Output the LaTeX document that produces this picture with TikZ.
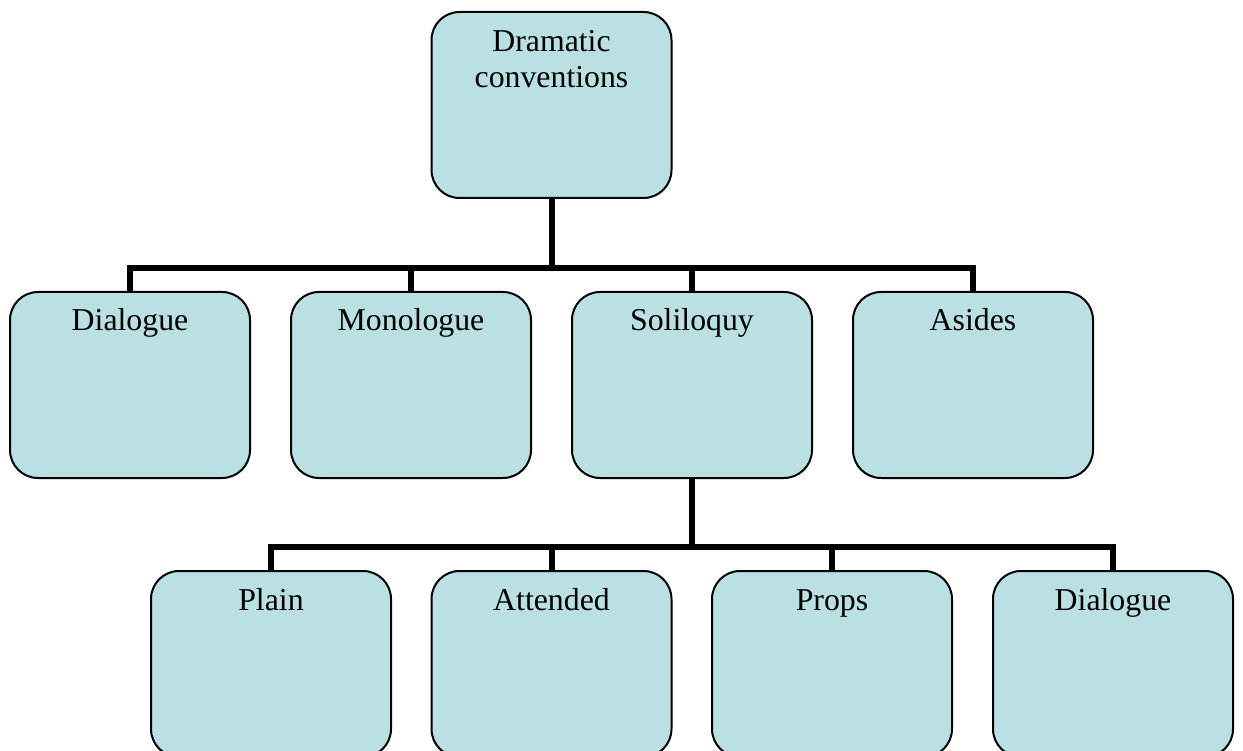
\documentclass[tikz,border=0pt]{standalone}
\usepackage{fontspec}
\setmainfont{Liberation Serif}
\definecolor{boxfill}{HTML}{BAE0E3}
\begin{document}
\begin{tikzpicture}[x=1pt,y=-1pt,
  box/.style={draw=black, line width=2pt, fill=boxfill, rounded corners=28pt,
    minimum width=240pt, minimum height=186pt, inner sep=0pt},
  lbl/.style={font=\fontsize{31.8}{36}\selectfont, anchor=base, inner sep=0pt},
  conn/.style={line width=6pt, line join=miter}]
\useasboundingbox (0,0) rectangle (1243,751);
\clip (0,0) rectangle (1243,751);
% junction points
\coordinate (j1) at (551.5,268);
\coordinate (j2) at (692,547);
% boxes
\node[box] (top) at (551.5,105) {};
\node[box] (dial) at (130,385) {};
\node[box] (mono) at (411,385) {};
\node[box] (soli) at (692,385) {};
\node[box] (asid) at (973,385) {};
\node[box] (plain) at (271,664) {};
\node[box] (atte) at (551.5,664) {};
\node[box] (props) at (832,664) {};
\node[box] (dial2) at (1113,664) {};
% connectors
\draw[conn] (top.south) -- (j1);
\foreach \c in {dial,mono,soli,asid} \draw[conn] (\c.north) |- (j1);
\draw[conn] (soli.south) -- (j2);
\foreach \c in {plain,atte,props,dial2} \draw[conn] (\c.north) |- (j2);
% labels
\node[lbl] (ltop1) at ([yshift=-41pt]top.north) {Dramatic};
\node[lbl] (ltop2) at ([yshift=-77pt]top.north) {conventions};
\node[lbl] (ldial) at ([yshift=-40pt]dial.north) {Dialogue};
\node[lbl] (lmono) at ([yshift=-40pt]mono.north) {Monologue};
\node[lbl] (lsoli) at ([yshift=-40pt]soli.north) {Soliloquy};
\node[lbl] (lasid) at ([yshift=-40pt]asid.north) {Asides};
\node[lbl] (lplain) at ([yshift=-40pt]plain.north) {Plain};
\node[lbl] (latte) at ([yshift=-40pt]atte.north) {Attended};
\node[lbl] (lprops) at ([yshift=-40pt]props.north) {Props};
\node[lbl] (ldial2) at ([yshift=-40pt]dial2.north) {Dialogue};
\end{tikzpicture}
\end{document}
